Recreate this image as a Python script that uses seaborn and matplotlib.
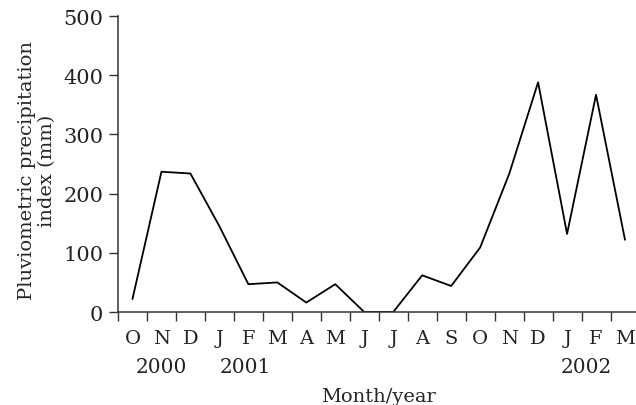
import numpy as np
import pandas as pd
import seaborn as sns
import matplotlib.pyplot as plt

months = ["O", "N", "D", "J", "F", "M", "A", "M", "J", "J",
          "A", "S", "O", "N", "D", "J", "F", "M"]
precip = [22, 237, 234, 145, 47, 50, 16, 47, 0, 0,
          62, 44, 109, 233, 388, 132, 367, 122]
years = ["2000", "2001", "2002"]
year_pos = [1.0, 3.9, 15.65]

df = pd.DataFrame({"pos": np.arange(len(months)), "precip": precip})

sns.set_theme(style="ticks")
plt.rcParams["font.family"] = ["DejaVu Serif"]
plt.rcParams["text.color"] = "#222222"

fig = plt.figure(figsize=(6.36, 4.06), dpi=100)
ax = fig.add_axes([0.1855, 0.229, 0.82, 0.729])

sns.lineplot(data=df, x="pos", y="precip", color="black", linewidth=1.3, ax=ax)

ax.set_xlim(-0.5, len(months) - 0.5)
ax.set_ylim(0, 500)
ax.set_yticks(range(0, 501, 100))

# boundary ticks without labels, month labels at the centres
ax.set_xticks(np.arange(-0.5, len(months), 1.0))
ax.set_xticklabels([])
ax.set_xticks(np.arange(len(months)), minor=True)
ax.set_xticklabels(months, minor=True)
ax.tick_params(axis="x", which="major", direction="out", length=6.5, width=1, colors="#333333")
ax.tick_params(axis="x", which="minor", length=0, pad=12, labelsize=14, labelcolor="#222222")
ax.tick_params(axis="y", direction="out", length=6.5, width=1, colors="#333333",
               labelsize=15, labelcolor="#222222", pad=4)

for lab, xp in zip(years, year_pos):
    ax.text(xp, -0.185, lab, transform=ax.get_xaxis_transform(),
            ha="center", va="center", fontsize=14.5)

sns.despine(ax=ax)
for s in ["left", "bottom"]:
    ax.spines[s].set_linewidth(1.1)
    ax.spines[s].set_color("#333333")

ax.set_xlabel("Month/year", fontsize=14)
ax.xaxis.set_label_coords(0.5, -0.255)
ax.set_ylabel("Pluviometric precipitation\nindex (mm)", fontsize=14, linespacing=1.15)
ax.yaxis.set_label_coords(-0.118, 0.48)

fig.savefig("out.png", dpi=100)
